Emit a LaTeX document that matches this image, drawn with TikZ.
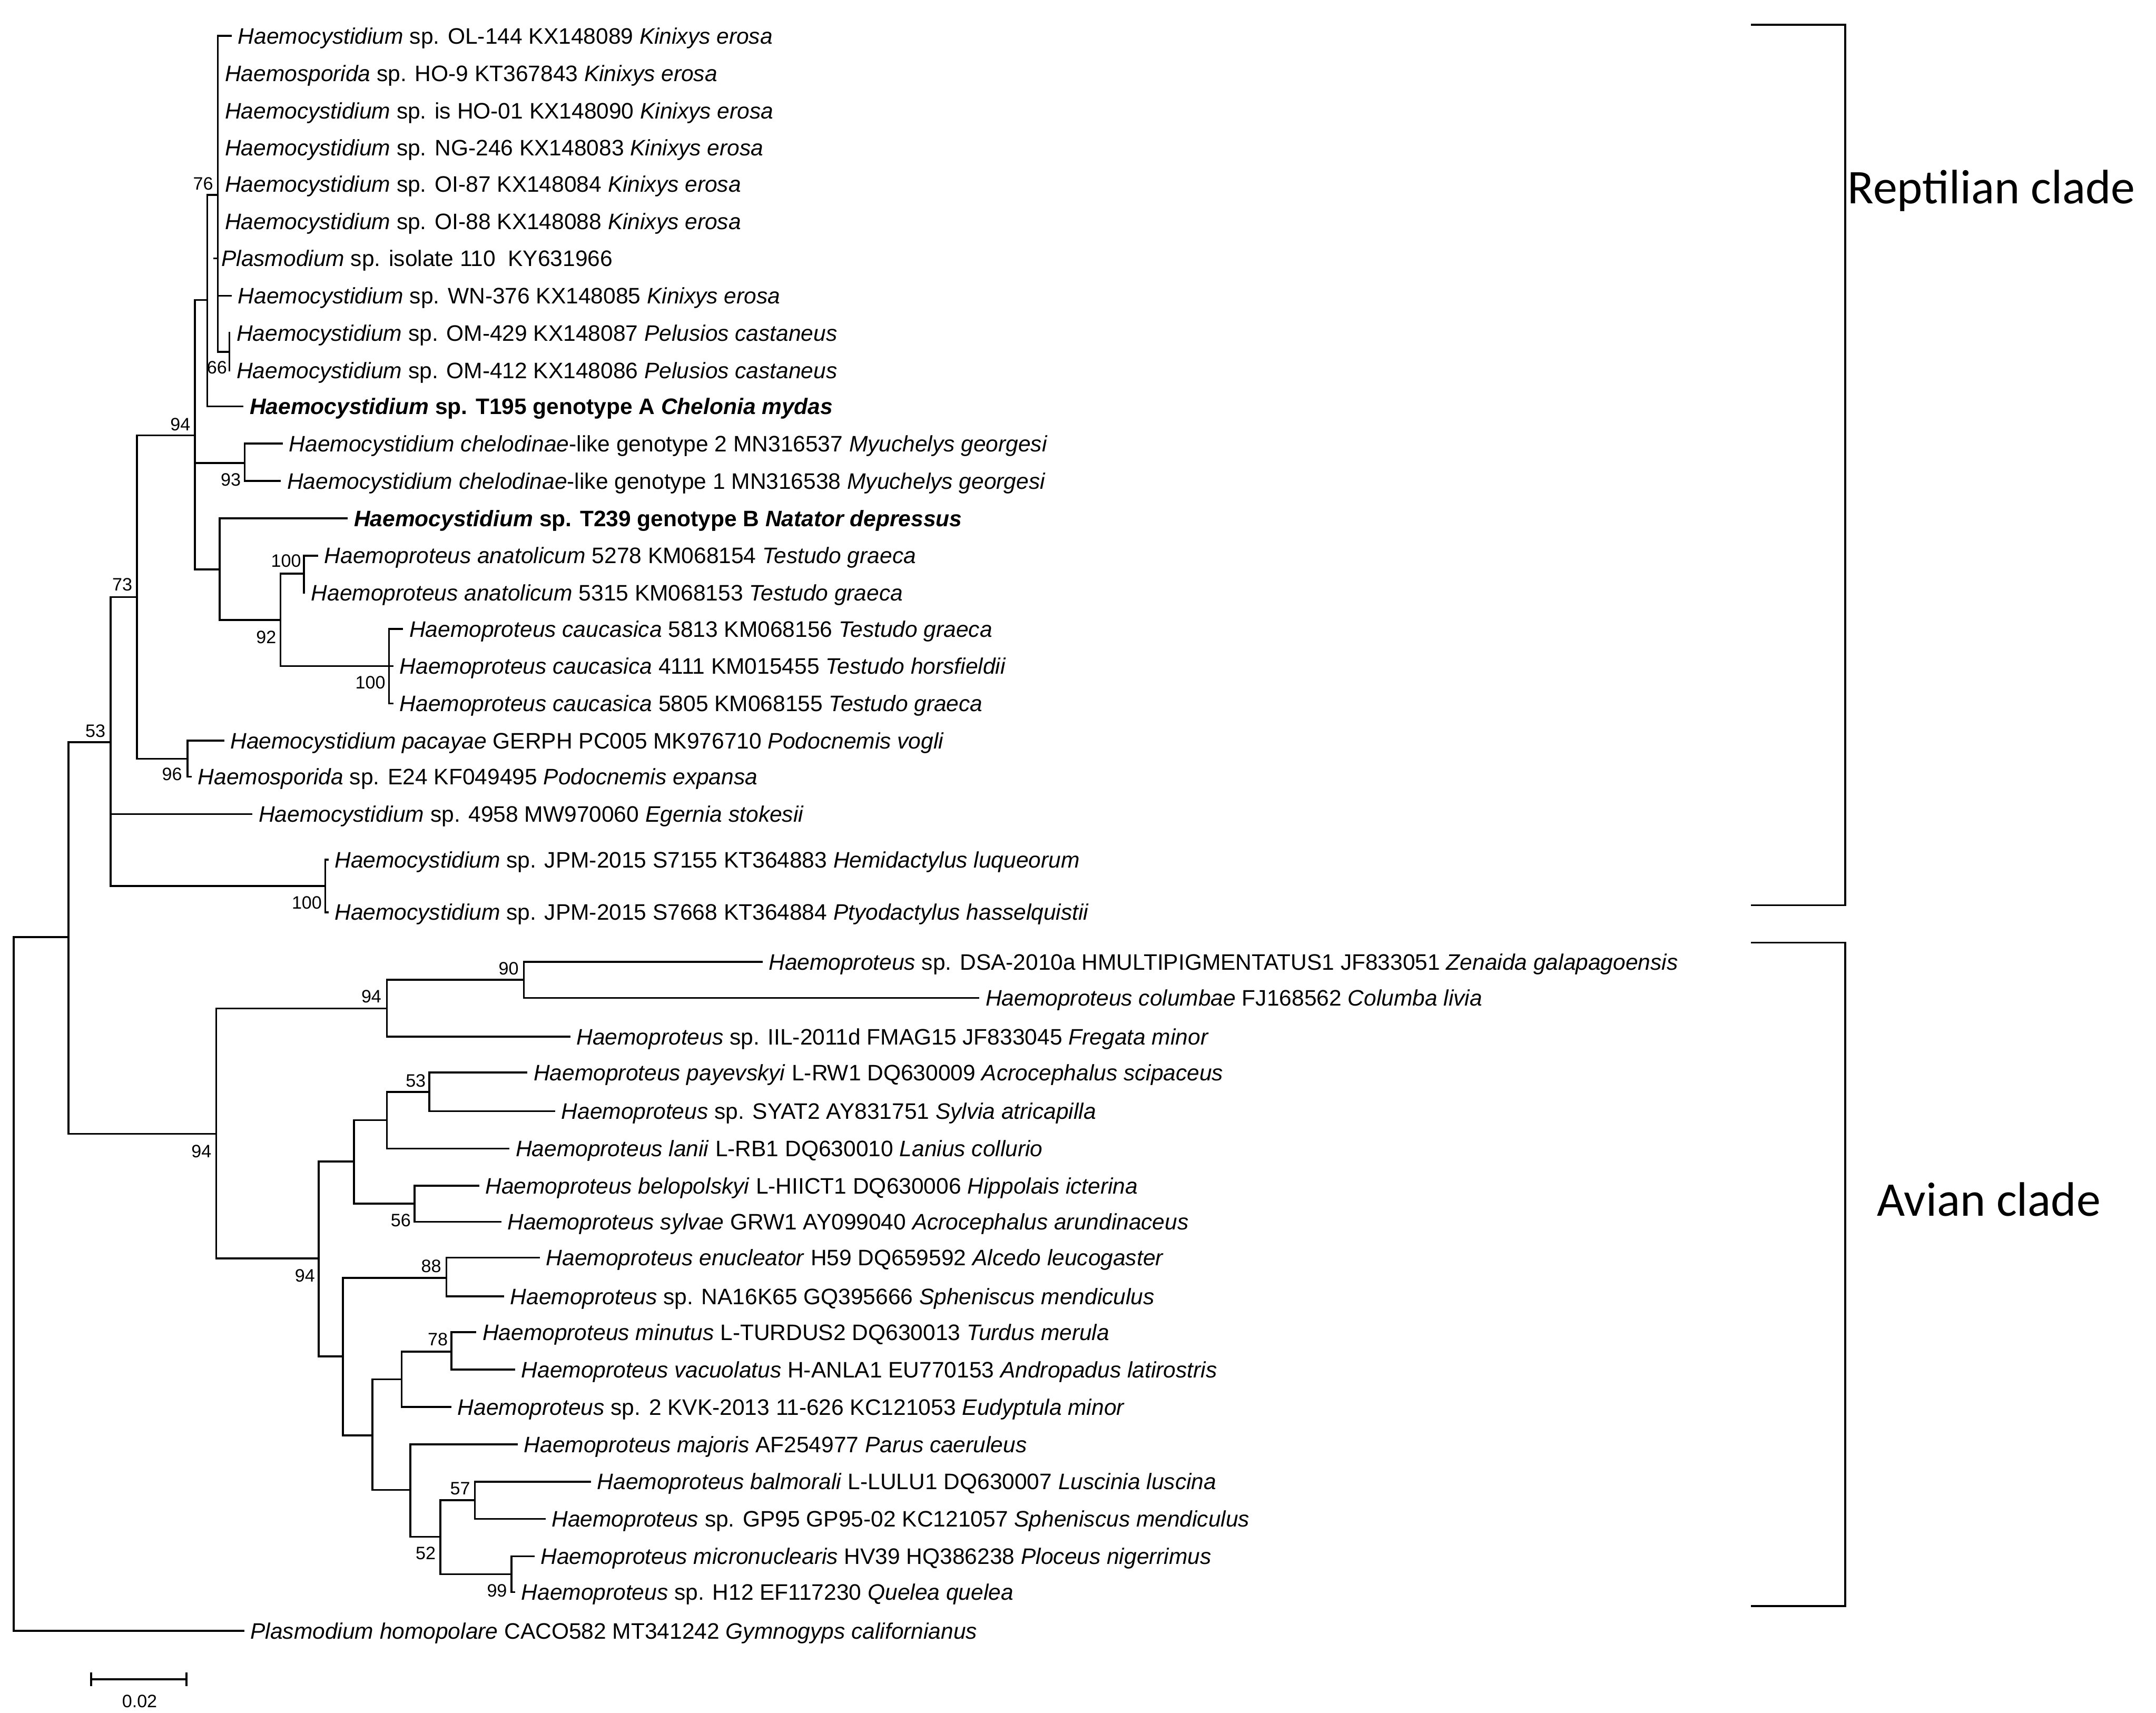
\documentclass[tikz,border=0pt]{standalone}
\usepackage{fontspec}
\setmainfont{Liberation Sans}
\newfontfamily\cladefont{Carlito}
\begin{document}
\begin{tikzpicture}[x=1pt,y=-1pt,
	branch/.style={line width=1.4pt,line cap=rect},
	leaf/.style={anchor=base west,inner sep=0pt,xshift=5pt,yshift=-5.8pt,font=\fontsize{16.2}{19}\selectfont},
	boot/.style={inner sep=0pt,font=\fontsize{13}{15}\selectfont},
	clade/.style={inner sep=0pt,font=\cladefont\fontsize{35}{40}\selectfont}]
	\useasboundingbox (0,0) rectangle (1560,1239.3);

	% internal nodes, reptilian part
	\coordinate (root) at (10,929);
	\coordinate (ing) at (49.5,678);
	\coordinate (rep) at (80,537);
	\coordinate (n73) at (99,432);
	\coordinate (n94) at (141,315);
	\coordinate (n76) at (150,217);
	\coordinate (kin) at (157.6,141);
	\coordinate (om) at (166,254.5);
	\coordinate (chel) at (177,335);
	\coordinate (tes) at (159,412);
	\coordinate (anat) at (220,415);
	\coordinate (n92) at (203,448.6);
	\coordinate (cauc) at (281.5,482);
	\coordinate (pac) at (135.6,549);
	\coordinate (jpm) at (235.4,641);

	% internal nodes, avian part
	\coordinate (av) at (156.4,820.4);
	\coordinate (a94) at (280,729.7);
	\coordinate (a90) at (379,709);
	\coordinate (b94) at (230.7,910.5);
	\coordinate (b1) at (256,840.5);
	\coordinate (b2) at (280,810.5);
	\coordinate (b53) at (310.7,790);
	\coordinate (b56) at (300,871);
	\coordinate (c1) at (248,981.5);
	\coordinate (c88) at (323,924.7);
	\coordinate (c2) at (269.5,1038.6);
	\coordinate (c3) at (290.6,998);
	\coordinate (c78) at (326.7,978);
	\coordinate (c4) at (296.8,1078);
	\coordinate (c52) at (318.7,1112);
	\coordinate (c57) at (343.6,1085.4);
	\coordinate (c99) at (370,1139);

	% leaves
	\coordinate (l1) at (167,26);
	\coordinate (l2) at (157.6,53);
	\coordinate (l3) at (157.6,80);
	\coordinate (l4) at (157.6,107);
	\coordinate (l5) at (157.6,133);
	\coordinate (l6) at (157.6,160);
	\coordinate (l7) at (155,187);
	\coordinate (l8) at (167,214);
	\coordinate (l9) at (166,241);
	\coordinate (l10) at (166,268);
	\coordinate (l11) at (175.5,294);
	\coordinate (l12) at (204,321);
	\coordinate (l13) at (202.6,348);
	\coordinate (l14) at (251,375);
	\coordinate (l15) at (229.5,402);
	\coordinate (l16) at (220,429);
	\coordinate (l17) at (291,455);
	\coordinate (l18) at (284,482);
	\coordinate (l19) at (284,509);
	\coordinate (l20) at (161.5,536);
	\coordinate (l21) at (138,562);
	\coordinate (l22) at (182,589);
	\coordinate (l23) at (237,622);
	\coordinate (l24) at (237,660);
	\coordinate (l25) at (551,696);
	\coordinate (l26) at (708,722);
	\coordinate (l27) at (412,750);
	\coordinate (l28) at (381,776);
	\coordinate (l29) at (401,804);
	\coordinate (l30) at (368,831);
	\coordinate (l31) at (346,858);
	\coordinate (l32) at (362,884);
	\coordinate (l33) at (390,910);
	\coordinate (l34) at (364,938);
	\coordinate (l35) at (344,964);
	\coordinate (l36) at (372,991);
	\coordinate (l37) at (326,1018);
	\coordinate (l38) at (374,1045);
	\coordinate (l39) at (427,1072);
	\coordinate (l40) at (394,1099);
	\coordinate (l41) at (386,1126);
	\coordinate (l42) at (372,1152);
	\coordinate (l43) at (176,1180);

	\node[leaf] (t1) at (l1) {\textit{Haemocystidium} sp. OL-144 KX148089 \textit{Kinixys erosa}};
	\node[leaf] (t2) at (l2) {\textit{Haemosporida} sp. HO-9 KT367843 \textit{Kinixys erosa}};
	\node[leaf] (t3) at (l3) {\textit{Haemocystidium} sp. is HO-01 KX148090 \textit{Kinixys erosa}};
	\node[leaf] (t4) at (l4) {\textit{Haemocystidium} sp. NG-246 KX148083 \textit{Kinixys erosa}};
	\node[leaf] (t5) at (l5) {\textit{Haemocystidium} sp. OI-87 KX148084 \textit{Kinixys erosa}};
	\node[leaf] (t6) at (l6) {\textit{Haemocystidium} sp. OI-88 KX148088 \textit{Kinixys erosa}};
	\node[leaf] (t7) at (l7) {\textit{Plasmodium} sp. isolate 110\ \ KY631966};
	\node[leaf] (t8) at (l8) {\textit{Haemocystidium} sp. WN-376 KX148085 \textit{Kinixys erosa}};
	\node[leaf] (t9) at (l9) {\textit{Haemocystidium} sp. OM-429 KX148087 \textit{Pelusios castaneus}};
	\node[leaf] (t10) at (l10) {\textit{Haemocystidium} sp. OM-412 KX148086 \textit{Pelusios castaneus}};
	\node[leaf] (t11) at (l11) {\bfseries\textit{Haemocystidium} sp. T195 genotype A \textit{Chelonia mydas}};
	\node[leaf] (t12) at (l12) {\textit{Haemocystidium chelodinae}-like genotype 2 MN316537 \textit{Myuchelys georgesi}};
	\node[leaf] (t13) at (l13) {\textit{Haemocystidium chelodinae}-like genotype 1 MN316538 \textit{Myuchelys georgesi}};
	\node[leaf] (t14) at (l14) {\bfseries\textit{Haemocystidium} sp. T239 genotype B \textit{Natator depressus}};
	\node[leaf] (t15) at (l15) {\textit{Haemoproteus anatolicum} 5278 KM068154 \textit{Testudo graeca}};
	\node[leaf] (t16) at (l16) {\textit{Haemoproteus anatolicum} 5315 KM068153 \textit{Testudo graeca}};
	\node[leaf] (t17) at (l17) {\textit{Haemoproteus caucasica} 5813 KM068156 \textit{Testudo graeca}};
	\node[leaf] (t18) at (l18) {\textit{Haemoproteus caucasica} 4111 KM015455 \textit{Testudo horsfieldii}};
	\node[leaf] (t19) at (l19) {\textit{Haemoproteus caucasica} 5805 KM068155 \textit{Testudo graeca}};
	\node[leaf] (t20) at (l20) {\textit{Haemocystidium pacayae} GERPH PC005 MK976710 \textit{Podocnemis vogli}};
	\node[leaf] (t21) at (l21) {\textit{Haemosporida} sp. E24 KF049495 \textit{Podocnemis expansa}};
	\node[leaf] (t22) at (l22) {\textit{Haemocystidium} sp. 4958 MW970060 \textit{Egernia stokesii}};
	\node[leaf] (t23) at (l23) {\textit{Haemocystidium} sp. JPM-2015 S7155 KT364883 \textit{Hemidactylus luqueorum}};
	\node[leaf] (t24) at (l24) {\textit{Haemocystidium} sp. JPM-2015 S7668 KT364884 \textit{Ptyodactylus hasselquistii}};
	\node[leaf] (t25) at (l25) {\textit{Haemoproteus} sp. DSA-2010a HMULTIPIGMENTATUS1 JF833051 \textit{Zenaida galapagoensis}};
	\node[leaf] (t26) at (l26) {\textit{Haemoproteus columbae} FJ168562 \textit{Columba livia}};
	\node[leaf] (t27) at (l27) {\textit{Haemoproteus} sp. IIL-2011d FMAG15 JF833045 \textit{Fregata minor}};
	\node[leaf] (t28) at (l28) {\textit{Haemoproteus payevskyi} L-RW1 DQ630009 \textit{Acrocephalus scipaceus}};
	\node[leaf] (t29) at (l29) {\textit{Haemoproteus} sp. SYAT2 AY831751 \textit{Sylvia atricapilla}};
	\node[leaf] (t30) at (l30) {\textit{Haemoproteus lanii} L-RB1 DQ630010 \textit{Lanius collurio}};
	\node[leaf] (t31) at (l31) {\textit{Haemoproteus belopolskyi} L-HIICT1 DQ630006 \textit{Hippolais icterina}};
	\node[leaf] (t32) at (l32) {\textit{Haemoproteus sylvae} GRW1 AY099040 \textit{Acrocephalus arundinaceus}};
	\node[leaf] (t33) at (l33) {\textit{Haemoproteus enucleator} H59 DQ659592 \textit{Alcedo leucogaster}};
	\node[leaf] (t34) at (l34) {\textit{Haemoproteus} sp. NA16K65 GQ395666 \textit{Spheniscus mendiculus}};
	\node[leaf] (t35) at (l35) {\textit{Haemoproteus minutus} L-TURDUS2 DQ630013 \textit{Turdus merula}};
	\node[leaf] (t36) at (l36) {\textit{Haemoproteus vacuolatus} H-ANLA1 EU770153 \textit{Andropadus latirostris}};
	\node[leaf] (t37) at (l37) {\textit{Haemoproteus} sp. 2 KVK-2013 11-626 KC121053 \textit{Eudyptula minor}};
	\node[leaf] (t38) at (l38) {\textit{Haemoproteus majoris} AF254977 \textit{Parus caeruleus}};
	\node[leaf] (t39) at (l39) {\textit{Haemoproteus balmorali} L-LULU1 DQ630007 \textit{Luscinia luscina}};
	\node[leaf] (t40) at (l40) {\textit{Haemoproteus} sp. GP95 GP95-02 KC121057 \textit{Spheniscus mendiculus}};
	\node[leaf] (t41) at (l41) {\textit{Haemoproteus micronuclearis} HV39 HQ386238 \textit{Ploceus nigerrimus}};
	\node[leaf] (t42) at (l42) {\textit{Haemoproteus} sp. H12 EF117230 \textit{Quelea quelea}};
	\node[leaf] (t43) at (l43) {\textit{Plasmodium homopolare} CACO582 MT341242 \textit{Gymnogyps californianus}};

	% branches
	\draw[branch] (root) |- (ing); \draw[branch] (root) |- (l43);
	\draw[branch] (ing) |- (rep); \draw[branch] (ing) |- (av);
	\draw[branch] (rep) |- (n73); \draw[branch] (rep) |- (l22); \draw[branch] (rep) |- (jpm);
	\draw[branch] (n73) |- (n94); \draw[branch] (n73) |- (pac);
	\draw[branch] (n94) |- (n76); \draw[branch] (n94) |- (chel); \draw[branch] (n94) |- (tes);
	\draw[branch] (n76) |- (kin); \draw[branch] (n76) |- (l11);
	\foreach \i in {1,...,8} {\draw[branch] (kin) |- (l\i);}
	\draw[branch] (kin) |- (om);
	\draw[branch] (om) |- (l9); \draw[branch] (om) |- (l10);
	\draw[branch] (chel) |- (l12); \draw[branch] (chel) |- (l13);
	\draw[branch] (tes) |- (l14); \draw[branch] (tes) |- (n92);
	\draw[branch] (n92) |- (anat); \draw[branch] (n92) |- (cauc);
	\draw[branch] (anat) |- (l15); \draw[branch] (anat) |- (l16);
	\foreach \i in {17,18,19} {\draw[branch] (cauc) |- (l\i);}
	\draw[branch] (pac) |- (l20); \draw[branch] (pac) |- (l21);
	\draw[branch] (jpm) |- (l23); \draw[branch] (jpm) |- (l24);
	\draw[branch] (av) |- (a94); \draw[branch] (av) |- (b94);
	\draw[branch] (a94) |- (a90); \draw[branch] (a94) |- (l27);
	\draw[branch] (a90) |- (l25); \draw[branch] (a90) |- (l26);
	\draw[branch] (b94) |- (b1); \draw[branch] (b94) |- (c1);
	\draw[branch] (b1) |- (b2); \draw[branch] (b1) |- (b56);
	\draw[branch] (b2) |- (b53); \draw[branch] (b2) |- (l30);
	\draw[branch] (b53) |- (l28); \draw[branch] (b53) |- (l29);
	\draw[branch] (b56) |- (l31); \draw[branch] (b56) |- (l32);
	\draw[branch] (c1) |- (c88); \draw[branch] (c1) |- (c2);
	\draw[branch] (c88) |- (l33); \draw[branch] (c88) |- (l34);
	\draw[branch] (c2) |- (c3); \draw[branch] (c2) |- (c4);
	\draw[branch] (c3) |- (c78); \draw[branch] (c3) |- (l37);
	\draw[branch] (c78) |- (l35); \draw[branch] (c78) |- (l36);
	\draw[branch] (c4) |- (l38); \draw[branch] (c4) |- (c52);
	\draw[branch] (c52) |- (c57); \draw[branch] (c52) |- (c99);
	\draw[branch] (c57) |- (l39); \draw[branch] (c57) |- (l40);
	\draw[branch] (c99) |- (l41); \draw[branch] (c99) |- (l42);

	% bootstrap values
	\node[boot] (s76) at (147,133) {76};
	\node[boot] (s66) at (157,266) {66};
	\node[boot] (s94r) at (130.5,307) {94};
	\node[boot] (s93) at (167,347) {93};
	\node[boot] (s100a) at (207,406) {100};
	\node[boot] (s92) at (192.6,461) {92};
	\node[boot] (s100c) at (268,494) {100};
	\node[boot] (s96) at (124.5,560) {96};
	\node[boot] (s73) at (88.5,423) {73};
	\node[boot] (s53r) at (69,529) {53};
	\node[boot] (s100j) at (222,653) {100};
	\node[boot] (s94a) at (145.7,833) {94};
	\node[boot] (s94b) at (268.7,721) {94};
	\node[boot] (s90) at (368,701) {90};
	\node[boot] (s94c) at (220.6,923) {94};
	\node[boot] (s53a) at (300.8,782) {53};
	\node[boot] (s56) at (290,883) {56};
	\node[boot] (s88) at (312,916) {88};
	\node[boot] (s78) at (316.8,969) {78};
	\node[boot] (s57) at (333,1077) {57};
	\node[boot] (s52) at (308,1124) {52};
	\node[boot] (s99) at (359.6,1151) {99};

	% clade brackets
	\coordinate (rt) at (1267,18); \coordinate (rb) at (1267,655);
	\coordinate (at) at (1267,682); \coordinate (ab) at (1267,1162);
	\draw[line width=1.4pt] (rt) -| (1335,336.5) |- (rb);
	\draw[line width=1.4pt] (at) -| (1335,922) |- (ab);
	\node[clade] (reptilian) at (1441,138) {Reptilian clade};
	\node[clade] (avian) at (1439,868) {Avian clade};

	% scale bar
	\coordinate (sb1) at (66,1215); \coordinate (sb2) at (135,1215);
	\draw[line width=1.4pt] (sb1) -- (sb2);
	\draw[line width=1.4pt] ([yshift=5pt]sb1) -- ([yshift=-5pt]sb1);
	\draw[line width=1.4pt] ([yshift=5pt]sb2) -- ([yshift=-5pt]sb2);
	\node[boot] (sbl) at (101,1231) {0.02};
\end{tikzpicture}
\end{document}
